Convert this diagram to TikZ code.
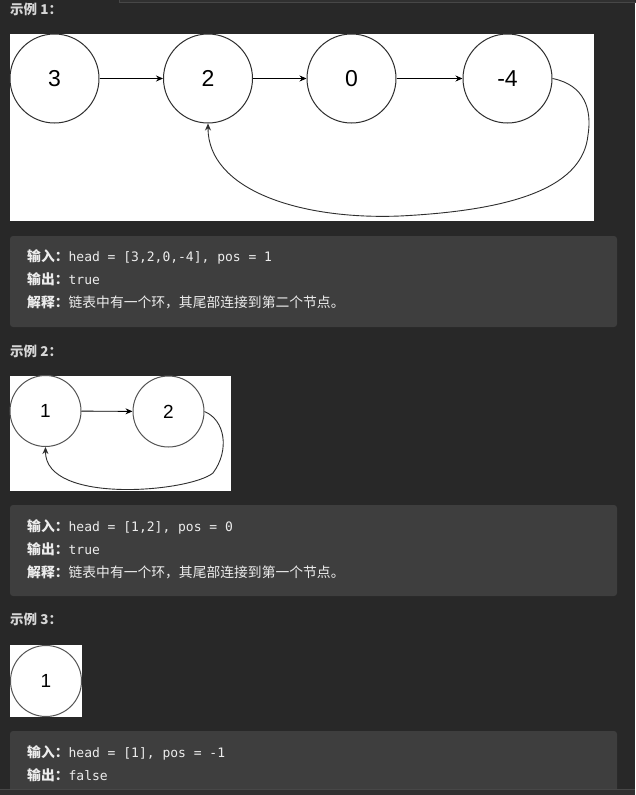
\documentclass[tikz,border=0pt]{standalone}
\usepackage{fontspec}
\usetikzlibrary{arrows.meta}
\newfontfamily\cjk{Noto Sans CJK SC}
\newfontfamily\monof{DejaVu Sans Mono}
\newfontfamily\arialf{Liberation Sans}
\definecolor{pagebg}{HTML}{282828}
\definecolor{boxbg}{HTML}{3E3E3E}
\definecolor{topbg}{HTML}{303030}
\definecolor{topline}{HTML}{474747}
\definecolor{headc}{HTML}{D6D6D6}
\definecolor{codec}{HTML}{EDEDED}
\definecolor{circa}{HTML}{2E2E2E}
\definecolor{circb}{HTML}{555555}
\newcommand\lbl[1]{{\cjk\bfseries\fontsize{13.8}{16}\selectfont #1}}
\newcommand\cod[1]{{\monof\fontsize{13}{16}\selectfont #1}}
\newcommand\zh[1]{{\cjk\fontsize{13.8}{16}\selectfont #1}}
\tikzset{
  codebox/.style={fill=boxbg, rounded corners=3pt, draw=none},
  bignode/.style={circle, draw=circa, line width=1pt, fill=white, inner sep=0pt,
    minimum size=89pt, font=\arialf\fontsize{23}{23}\selectfont},
  smallnode/.style={circle, draw=circb, line width=1pt, fill=white, inner sep=0pt,
    minimum size=71pt, font=\arialf\fontsize{19}{19}\selectfont},
  arr/.style={-{Stealth[length=7pt,width=6pt]}, line width=0.9pt, black},
  loopline/.style={-{Stealth[length=7pt,width=6pt]}, line width=0.9pt, draw=circa},
  heading/.style={anchor=base west, inner sep=0pt, text=headc,
    font=\cjk\bfseries\fontsize{13.5}{16}\selectfont},
  codeline/.style={anchor=base west, inner sep=0pt, text=codec},
}
\begin{document}
\begin{tikzpicture}[x=1pt,y=-1pt]
\useasboundingbox (0,0) rectangle (635,795);
\fill[pagebg] (0,0) rectangle (635,795);
% top strip
\filldraw[fill=topbg, draw=topline, line width=1pt] (119.5,-5) rectangle (640,2.5);

% ---------- example 1 ----------
\node[heading] (h1) at (10,14) {示例 1：};
\fill[white] (10,34) rectangle (594,221);
\node[bignode] (a1) at (54.5,78.5) {3};
\node[bignode] (a2) at (208,78.5) {2};
\node[bignode] (a3) at (351.5,78.5) {0};
\node[bignode] (a4) at (507.5,78.5) {-4};
\draw[arr] (a1) -- (a2);
\draw[arr] (a2) -- (a3);
\draw[arr] (a3) -- (a4);
\coordinate (p1) at (588,135);
\coordinate (p2) at (400,216);
\draw[loopline] (a4.east) .. controls (585,85) and (592,110) .. (p1)
  .. controls (583,185) and (520,210) .. (p2)
  .. controls (300,220) and (208,190) .. (a2.south);

\fill[codebox] (10,236) rectangle (617,327);
\node[codeline] (c11) at (27,261) {\lbl{输入：}\cod{head = [3,2,0,-4], pos = 1}};
\node[codeline] (c12) at (27,284) {\lbl{输出：}\cod{true}};
\node[codeline] (c13) at (27,307) {\lbl{解释：}\zh{链表中有一个环，其尾部连接到第二个节点。}};

% ---------- example 2 ----------
\node[heading] (h2) at (10,356) {示例 2：};
\fill[white] (10,376) rectangle (231,491);
\node[smallnode] (b1) at (45.5,411) {1};
\node[smallnode] (b2) at (168.5,411.5) {2};
\draw[arr] (b1) -- (b2);
\coordinate (q1) at (213,473);
\draw[loopline] (b2.east) .. controls (225,420) and (230,450) .. (q1)
  .. controls (190,492) and (45,505) .. (b1.south);

\fill[codebox] (10,505) rectangle (617,596);
\node[codeline] (c21) at (27,531) {\lbl{输入：}\cod{head = [1,2], pos = 0}};
\node[codeline] (c22) at (27,554) {\lbl{输出：}\cod{true}};
\node[codeline] (c23) at (27,577) {\lbl{解释：}\zh{链表中有一个环，其尾部连接到第一个节点。}};

% ---------- example 3 ----------
\node[heading] (h3) at (10,624) {示例 3：};
\fill[white] (10,645) rectangle (82,717);
\node[smallnode] (s1) at (46,681) {1};

\fill[codebox] (10,731) rectangle (617,800);
\node[codeline] (c31) at (27,757) {\lbl{输入：}\cod{head = [1], pos = -1}};
\node[codeline] (c32) at (27,780) {\lbl{输出：}\cod{false}};

% bottom strip
\fill[topbg] (0,789.5) rectangle (635,795);
\draw[topline, line width=1pt] (0,789.5) -- (635,789.5);
\end{tikzpicture}
\end{document}
